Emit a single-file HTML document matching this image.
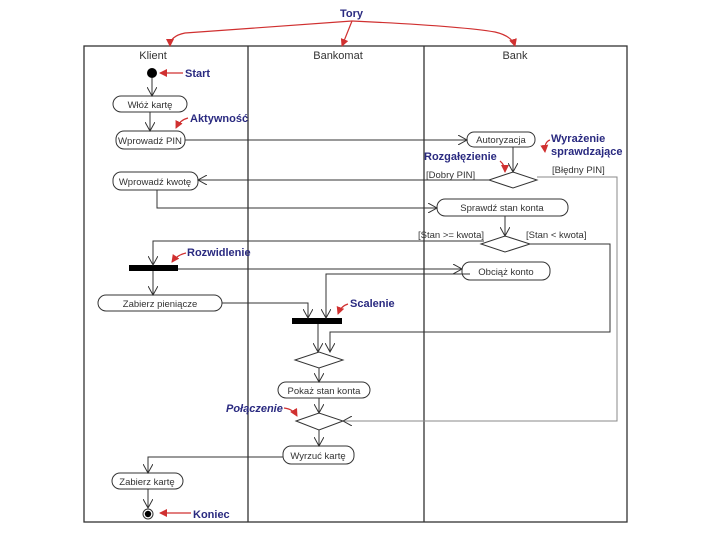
<!DOCTYPE html>
<html><head><meta charset="utf-8"><style>
body{margin:0;background:#fff;}
svg{display:block;font-family:"Liberation Sans",sans-serif;}
.b{font-size:9.5px;fill:#333;}
.l{font-size:11px;font-weight:bold;fill:#2a2a80;}
</style></head><body>
<svg width="720" height="540" viewBox="0 0 720 540">
<defs>
<marker id="o" markerWidth="10" markerHeight="10" refX="9" refY="5" orient="auto" markerUnits="userSpaceOnUse"><path d="M0,0 L9,5 L0,10" fill="none" stroke="#333" stroke-width="1"/></marker>
<marker id="r" markerWidth="8" markerHeight="8" refX="7" refY="4" orient="auto" markerUnits="userSpaceOnUse"><path d="M0,0 L8,4 L0,8z" fill="#d03030"/></marker>
</defs>
<g fill="none" stroke="#333" stroke-width="1.3">
<rect x="84" y="46" width="543" height="476"/>
<line x1="248" y1="46" x2="248" y2="522"/>
<line x1="424" y1="46" x2="424" y2="522"/>
</g>
<g class="b" text-anchor="middle" style="font-size:11px">
<text x="153" y="59">Klient</text><text x="338" y="59">Bankomat</text><text x="515" y="59">Bank</text>
</g>
<text class="l" x="340" y="17">Tory</text>
<g fill="none" stroke="#d03030" stroke-width="1.2">
<path d="M352,21 Q250,28 185,33 Q170,36 170,46" marker-end="url(#r)"/>
<path d="M352,21 L342,46" marker-end="url(#r)"/>
<path d="M352,21 Q460,26 495,32 Q512,36 515,46" marker-end="url(#r)"/>
<path d="M183,73 L160,73" marker-end="url(#r)"/>
<path d="M188,118 Q180,120 176,128" marker-end="url(#r)"/>
<path d="M500,161 Q505,165 505,172" marker-end="url(#r)"/>
<path d="M550,140 Q544,142 545,152" marker-end="url(#r)"/>
<path d="M186,253 Q177,255 172,262" marker-end="url(#r)"/>
<path d="M348,304 Q341,306 338,314" marker-end="url(#r)"/>
<path d="M284,408 Q293,409 297,416" marker-end="url(#r)"/>
<path d="M191,513 L160,513" marker-end="url(#r)"/>
</g>
<text class="l" x="185" y="77">Start</text>
<text class="l" x="190" y="122">Aktywność</text>
<text class="l" x="424" y="160">Rozgałęzienie</text>
<text class="l" x="551" y="142">Wyrażenie</text>
<text class="l" x="551" y="155">sprawdzające</text>
<text class="l" x="187" y="256">Rozwidlenie</text>
<text class="l" x="350" y="307">Scalenie</text>
<text class="l" x="226" y="412" font-style="italic">Połączenie</text>
<text class="l" x="193" y="518">Koniec</text>
<circle cx="152" cy="73" r="5" fill="#000"/>
<circle cx="148" cy="514" r="5" fill="none" stroke="#333"/>
<circle cx="148" cy="514" r="3.2" fill="#000"/>
<g fill="#fff" stroke="#333" stroke-width="1">
<rect x="113" y="96" width="74" height="16" rx="8"/>
<rect x="116" y="131" width="69" height="18" rx="8"/>
<rect x="113" y="172" width="85" height="18" rx="8"/>
<rect x="467" y="132" width="68" height="15" rx="7"/>
<rect x="437" y="199" width="131" height="17" rx="8"/>
<rect x="462" y="262" width="88" height="18" rx="8"/>
<rect x="98" y="295" width="124" height="16" rx="8"/>
<rect x="278" y="382" width="92" height="16" rx="8"/>
<rect x="283" y="446" width="71" height="18" rx="8"/>
<rect x="112" y="473" width="71" height="16" rx="8"/>
<path d="M489,180 L513,172 L537,180 L513,188z"/>
<path d="M481,244 L505,236 L530,244 L505,252z"/>
<path d="M295,360 L319,352 L343,360 L319,368z"/>
<path d="M296,421 L319,413 L343,421 L319,430z"/>
</g>
<rect x="129" y="265" width="49" height="6" fill="#000"/>
<rect x="292" y="318" width="50" height="6" fill="#000"/>
<g class="b" text-anchor="middle">
<text x="150" y="108">Włóż kartę</text>
<text x="150" y="144" textLength="64" lengthAdjust="spacingAndGlyphs">Wprowadź PIN</text>
<text x="155" y="185">Wprowadź kwotę</text>
<text x="501" y="143">Autoryzacja</text>
<text x="502" y="211">Sprawdź stan konta</text>
<text x="506" y="275">Obciąż konto</text>
<text x="160" y="307">Zabierz pieniącze</text>
<text x="324" y="394">Pokaż stan konta</text>
<text x="318" y="459">Wyrzuć kartę</text>
<text x="147" y="485">Zabierz kartę</text>
</g>
<g class="b" style="font-size:9.5px">
<text x="426" y="178">[Dobry PIN]</text>
<text x="552" y="173">[Błędny PIN]</text>
<text x="418" y="238">[Stan &gt;= kwota]</text>
<text x="526" y="238">[Stan &lt; kwota]</text>
</g>
<g fill="none" stroke="#333" stroke-width="1">
<path d="M152,78 V96" marker-end="url(#o)"/>
<path d="M150,112 V131" marker-end="url(#o)"/>
<path d="M185,140 H467" marker-end="url(#o)"/>
<path d="M513,147 V172" marker-end="url(#o)"/>
<path d="M489,180 H198" marker-end="url(#o)"/>
<path d="M537,177 H617 V421 H343" marker-end="url(#o)" stroke="#888"/>
<path d="M157,190 V208 H437" marker-end="url(#o)"/>
<path d="M505,216 V236" marker-end="url(#o)"/>
<path d="M484,241 H153 V265" marker-end="url(#o)"/>
<path d="M530,244 H610 V332 H330 V352" marker-end="url(#o)"/>
<path d="M178,269 H462" marker-end="url(#o)"/>
<path d="M153,271 V295" marker-end="url(#o)"/>
<path d="M222,303 H308 V318" marker-end="url(#o)"/>
<path d="M470,274 H326 V318" marker-end="url(#o)"/>
<path d="M318,324 V352" marker-end="url(#o)"/>
<path d="M319,368 V382" marker-end="url(#o)"/>
<path d="M319,398 V413" marker-end="url(#o)"/>
<path d="M319,430 V446" marker-end="url(#o)"/>
<path d="M283,457 H148 V473" marker-end="url(#o)"/>
<path d="M148,489 V508" marker-end="url(#o)"/>
</g>
</svg>
</body></html>
